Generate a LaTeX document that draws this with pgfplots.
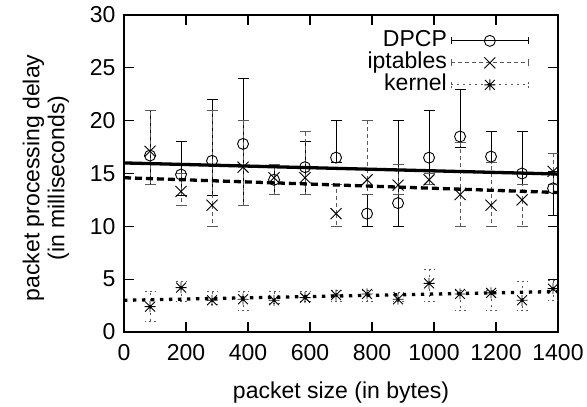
\documentclass[border=0pt]{standalone}
\usepackage{fontspec}
\setmainfont{Liberation Sans}
\usepackage{pgfplots}
\usepackage{pgfplotstable}
\pgfplotsset{compat=1.18}

\newcommand\lbl{\fontsize{23}{25}\selectfont}

% gnuplot point type 3: a + laid over an x
\pgfdeclareplotmark{gpstar}{%
  \pgfpathmoveto{\pgfqpoint{-\pgfplotmarksize}{0pt}}%
  \pgfpathlineto{\pgfqpoint{\pgfplotmarksize}{0pt}}%
  \pgfpathmoveto{\pgfqpoint{0pt}{-\pgfplotmarksize}}%
  \pgfpathlineto{\pgfqpoint{0pt}{\pgfplotmarksize}}%
  \pgfpathmoveto{\pgfqpoint{-.9\pgfplotmarksize}{-.9\pgfplotmarksize}}%
  \pgfpathlineto{\pgfqpoint{.9\pgfplotmarksize}{.9\pgfplotmarksize}}%
  \pgfpathmoveto{\pgfqpoint{-.9\pgfplotmarksize}{.9\pgfplotmarksize}}%
  \pgfpathlineto{\pgfqpoint{.9\pgfplotmarksize}{-.9\pgfplotmarksize}}%
  \pgfusepathqstroke}

% x  mean  low  high
\pgfplotstableread{
x y lo hi
84 16.7 14 21
184 14.9 12.9 18
284 16.2 12.9 22
384 17.8 12 24
484 14.4 13 15.9
584 15.6 13 18
684 16.5 16 20
784 11.2 10 13
884 12.2 10 20
984 16.5 14 21
1084 18.5 17.5 23
1184 16.6 16 19
1284 15.0 14 19
1384 13.6 11 15.2
}\dpcp

\pgfplotstableread{
x y lo hi
84 17.1 14 21
184 13.3 12 15
284 12.0 10 21
384 15.6 12 20
484 14.6 13 15.9
584 14.6 13 19
684 11.2 10 14
784 14.4 13 20
884 13.9 13 15.9
984 14.4 14 15
1084 13.0 10 17.9
1184 12.0 10 16
1284 12.5 10 14
1384 15.2 14 16.9
}\iptables

\pgfplotstableread{
x y lo hi
84 2.4 1.0 3.8
184 4.2 2.9 4.8
284 3.0 2.6 3.8
384 3.1 2.0 3.8
484 3.0 2.7 3.8
584 3.25 2.9 3.8
684 3.5 2.9 3.9
784 3.6 2.9 3.9
884 3.1 2.9 3.7
984 4.6 2.9 5.9
1084 3.6 2.0 3.9
1184 3.7 2.0 3.9
1284 3.0 2.0 4.8
1384 4.1 3.0 4.9
}\kernel

\begin{document}
\begin{tikzpicture}
\begin{axis}[
    scale only axis,
    width=434pt, height=317pt,
    xmin=0, xmax=1400, ymin=0, ymax=30,
    xtick={0,200,...,1400},
    ytick={0,5,...,30},
    tick align=inside,
    major tick length=10pt,
    every tick/.style={black, line width=1.2pt},
    axis line style={line width=1.6pt},
    tick label style={font=\lbl},
    xticklabel style={anchor=north, yshift=-9pt},
    yticklabel style={anchor=east, xshift=-5pt},
    /pgf/number format/assume math mode=true,
    /pgf/number format/1000 sep={},
    label style={font=\lbl},
    xlabel={packet size (in bytes)},
    xlabel style={at={(rel axis cs:0.5,-0.19)}, anchor=center},
    ylabel={packet processing delay\\(in milliseconds)},
    ylabel style={at={(rel axis cs:-0.18,0.486)}, anchor=center, align=center},
    legend plot pos=right,
    legend cell align=right,
    legend style={draw=none, fill=none, at={(0.94,0.96)}, anchor=north east,
      font=\lbl, row sep=0pt,
      /tikz/every odd column/.style={column sep=3pt},
      nodes={inner sep=1pt, text height=15.5pt, text depth=4.5pt}},
]

\addplot[black, only marks, mark=o, mark size=5.5pt, mark options={line width=0.9pt},
    error bars/.cd, y dir=both, y explicit,
    error bar style={black, line width=0.9pt},
    error mark options={rotate=90, mark size=5.5pt, line width=0.9pt},
    /pgfplots/legend image code/.code={
      \draw[black, line width=0.9pt] (0pt,0pt) -- (77pt,0pt)
        (0pt,-3.5pt) -- (0pt,3.5pt) (77pt,-3.5pt) -- (77pt,3.5pt);
      \draw[black, line width=0.9pt, mark=o, mark size=5.5pt] plot coordinates {(38.5pt,0pt)};
    }]
  table[x=x, y=y, y error plus expr=\thisrow{hi}-\thisrow{y},
        y error minus expr=\thisrow{y}-\thisrow{lo}] {\dpcp};
\addlegendentry{DPCP}

\addplot[black, only marks, mark=x, mark size=7.8pt, mark options={line width=0.9pt},
    error bars/.cd, y dir=both, y explicit,
    error bar style={gray!70!black, line width=0.9pt, dash pattern=on 4pt off 3pt},
    error mark options={rotate=90, mark size=5.5pt, line width=0.9pt, gray!70!black},
    /pgfplots/legend image code/.code={
      \draw[gray!70!black, line width=0.9pt, dash pattern=on 4pt off 3pt] (0pt,0pt) -- (77pt,0pt);
      \draw[gray!70!black, line width=0.9pt] (0pt,-3.5pt) -- (0pt,3.5pt) (77pt,-3.5pt) -- (77pt,3.5pt);
      \draw[black, line width=0.9pt, mark=x, mark size=7.8pt] plot coordinates {(38.5pt,0pt)};
    }]
  table[x=x, y=y, y error plus expr=\thisrow{hi}-\thisrow{y},
        y error minus expr=\thisrow{y}-\thisrow{lo}] {\iptables};
\addlegendentry{iptables}

\addplot[black, only marks, mark=gpstar, mark size=5.5pt, mark options={line width=0.9pt},
    error bars/.cd, y dir=both, y explicit,
    error bar style={gray!70!black, line width=0.9pt, dash pattern=on 2pt off 4pt},
    error mark options={rotate=90, mark size=5.5pt, line width=0.9pt, gray!70!black,
      dash pattern=on 2pt off 3pt},
    /pgfplots/legend image code/.code={
      \draw[gray!70!black, line width=0.9pt, dash pattern=on 2pt off 4pt] (0pt,0pt) -- (77pt,0pt);
      \draw[gray!70!black, line width=0.9pt, dash pattern=on 2pt off 2pt] (0pt,-3.5pt) -- (0pt,3.5pt) (77pt,-3.5pt) -- (77pt,3.5pt);
      \draw[black, line width=0.9pt, mark=gpstar, mark size=5.5pt] plot coordinates {(38.5pt,0pt)};
    }]
  table[x=x, y=y, y error plus expr=\thisrow{hi}-\thisrow{y},
        y error minus expr=\thisrow{y}-\thisrow{lo}] {\kernel};
\addlegendentry{kernel}

% fitted lines
\addplot[black, line width=3.3pt, forget plot] coordinates {(0,16.0) (1400,14.95)};
\addplot[black, line width=3.3pt, dash pattern=on 7pt off 4pt, forget plot]
  coordinates {(0,14.6) (1400,13.2)};
\addplot[black, line width=3.3pt, dash pattern=on 3.3pt off 5.7pt, forget plot]
  coordinates {(0,3.0) (1400,3.83)};

\coordinate (ll) at (rel axis cs:0,0);
\coordinate (ur) at (rel axis cs:1,1);
\end{axis}
\pgfresetboundingbox
\path ([shift={(-124pt,-75pt)}]ll) rectangle ([shift={(29pt,15pt)}]ur);
\end{tikzpicture}
\end{document}
